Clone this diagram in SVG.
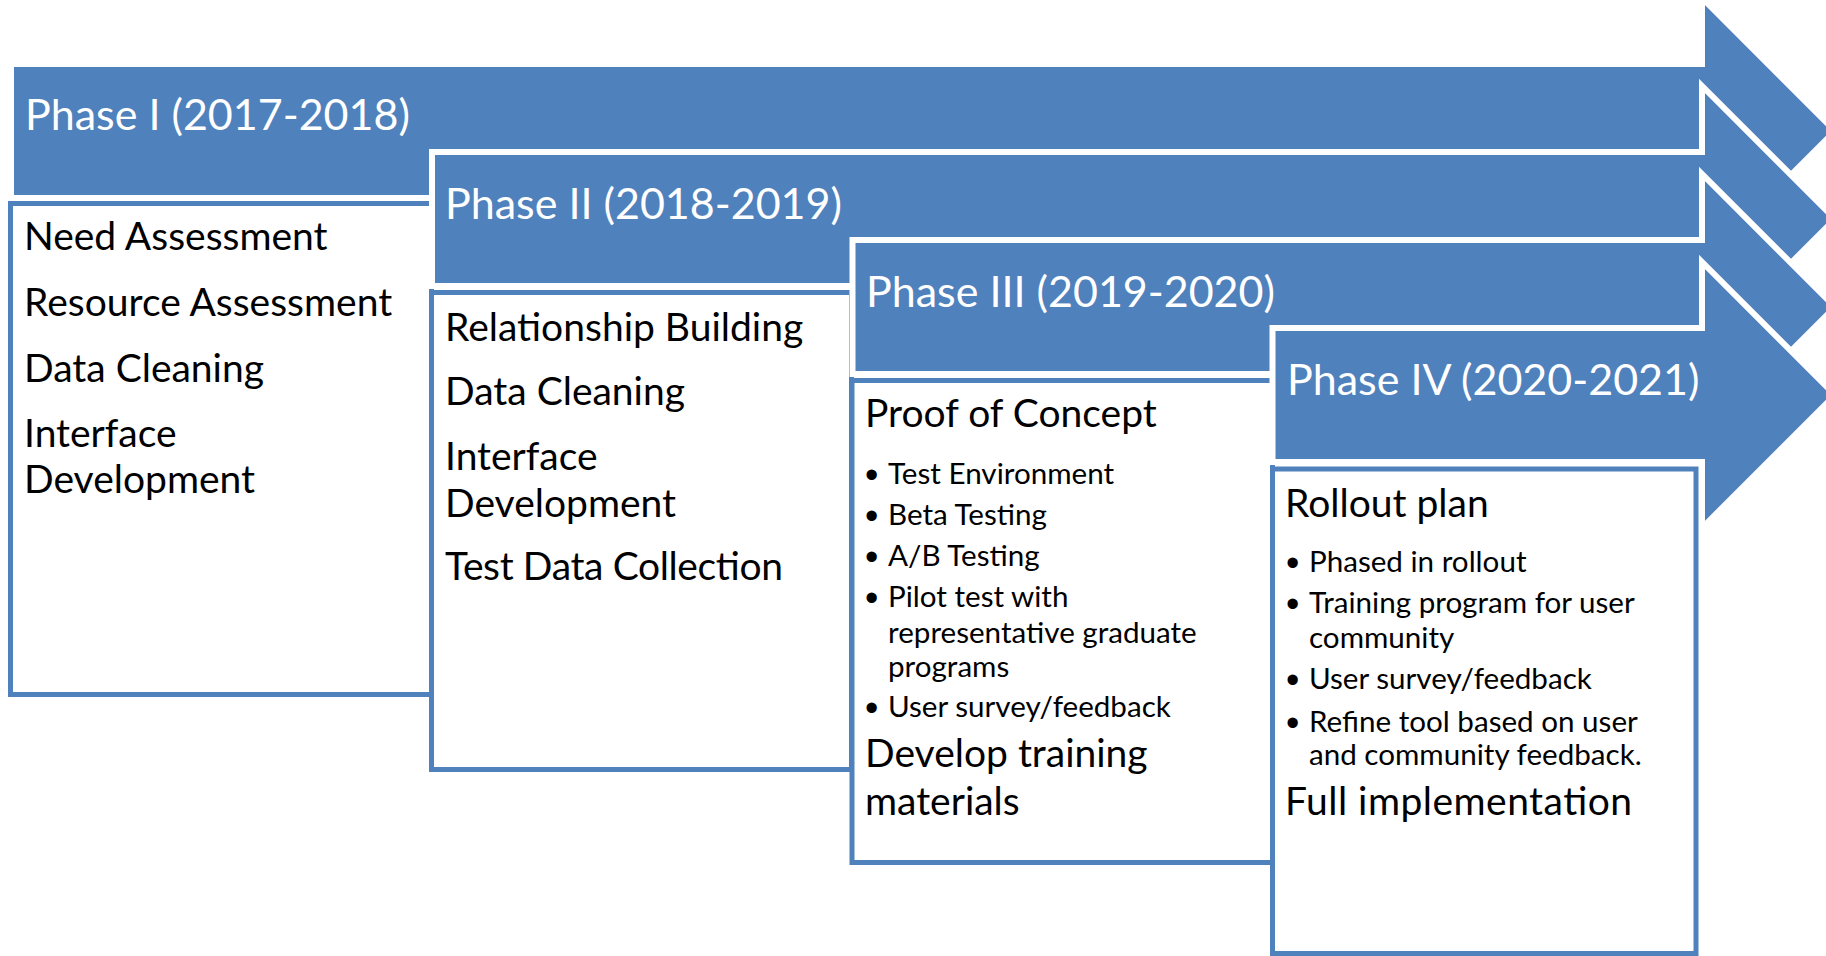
<svg xmlns="http://www.w3.org/2000/svg" width="1826" height="956" viewBox="0 0 1826 956">
<style>
.arrow{fill:#4F81BD;stroke:#FFFFFF;stroke-width:6;stroke-linejoin:miter}
.box{fill:#FFFFFF;stroke:#4F81BD;stroke-width:5}
.hd{font-family:Lato,"Open Sans",sans-serif;font-size:43px;fill:#FFFFFF}
.bd{font-family:Lato,"Open Sans",sans-serif;font-size:39px;fill:#000000}
.bl{font-family:Lato,"Open Sans",sans-serif;font-size:29.6px;fill:#000000}
.dot{font-family:"Liberation Sans",Arial,sans-serif;font-size:38px;fill:#000000}
</style>
<rect width="1826" height="956" fill="#FFFFFF"/>
<g id="connectors"></g>
<g id="phase1">
<path class="arrow" d="M11,64 H1702 V-2 L1835,131 L1702,264 V198 H11 Z"/>
<text class="hd" x="25" y="130">Phase I (2017-2018)</text>
<rect class="box" x="10.5" y="203.5" width="421" height="491"/>
<text class="bd" x="24" y="250">Need Assessment</text>
<text class="bd" x="24" y="316">Resource Assessment</text>
<text class="bd" x="24" y="382">Data Cleaning</text>
<text class="bd" x="24" y="447">Interface</text>
<text class="bd" x="24" y="493">Development</text>
</g>
<g id="phase2">
<path class="arrow" d="M432,152 H1702 V86 L1835,219 L1702,352 V286 H432 Z"/>
<text class="hd" x="445" y="219">Phase II (2018-2019)</text>
<rect class="box" x="431.5" y="292.5" width="420" height="477"/>
<text class="bd" x="445" y="341">Relationship Building</text>
<text class="bd" x="445" y="405">Data Cleaning</text>
<text class="bd" x="445" y="470">Interface</text>
<text class="bd" x="445" y="517">Development</text>
<text class="bd" x="445" y="580" textLength="338">Test Data Collection</text>
</g>
<g id="phase3">
<path class="arrow" d="M852.5,240 H1702 V174 L1835,307 L1702,440 V374 H852.5 Z"/>
<text class="hd" x="866" y="307">Phase III (2019-2020)</text>
<rect class="box" x="852" y="380.5" width="420.5" height="482"/>
<text class="bd" x="865" y="427">Proof of Concept</text>
<text class="dot" x="865" y="488">•</text><text class="bl" x="888" y="484">Test Environment</text>
<text class="dot" x="865" y="529">•</text><text class="bl" x="888" y="525">Beta Testing</text>
<text class="dot" x="865" y="570">•</text><text class="bl" x="888" y="566">A/B Testing</text>
<text class="dot" x="865" y="611">•</text><text class="bl" x="888" y="607">Pilot test with</text>
<text class="bl" x="888" y="643">representative graduate</text>
<text class="bl" x="888" y="677">programs</text>
<text class="dot" x="865" y="721">•</text><text class="bl" x="888" y="717">User survey/feedback</text>
<text class="bd" x="865" y="767">Develop training</text>
<text class="bd" x="865" y="815">materials</text>
</g>
<g id="phase4">
<path class="arrow" d="M1272.5,328 H1702 V262 L1835,395 L1702,528 V462 H1272.5 Z"/>
<text class="hd" x="1287" y="395">Phase IV (2020-2021)</text>
<rect class="box" x="1272.5" y="469" width="423.5" height="484.5"/>
<text class="bd" x="1285" y="517">Rollout plan</text>
<text class="dot" x="1286" y="576">•</text><text class="bl" x="1309" y="572">Phased in rollout</text>
<text class="dot" x="1286" y="617">•</text><text class="bl" x="1309" y="613">Training program for user</text>
<text class="bl" x="1309" y="648">community</text>
<text class="dot" x="1286" y="693">•</text><text class="bl" x="1309" y="689">User survey/feedback</text>
<text class="dot" x="1286" y="736">•</text><text class="bl" x="1309" y="732">Refine tool based on user</text>
<text class="bl" x="1309" y="765">and community feedback.</text>
<text class="bd" x="1285" y="815" textLength="347">Full implementation</text>
</g>
</svg>
